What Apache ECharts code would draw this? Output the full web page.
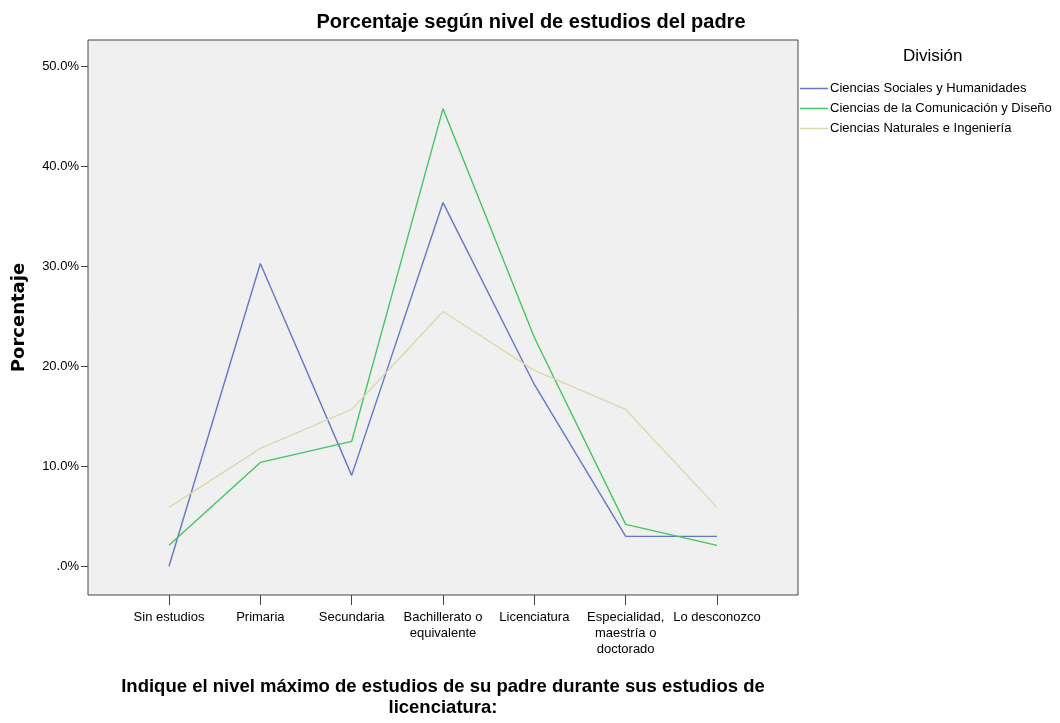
<!DOCTYPE html>
<html><head><meta charset="utf-8">
<script src="https://cdn.jsdelivr.net/npm/echarts@6/dist/echarts.min.js"></script>
<style>html,body{margin:0;padding:0;background:#fff;overflow:hidden}#c{width:1060px;height:723px}</style>
</head><body><div id="c"></div>
<script>
const categories = ['Sin estudios','Primaria','Secundaria','Bachillerato o\nequivalente','Licenciatura','Especialidad,\nmaestría o\ndoctorado','Lo desconozco'];
const seriesNames = ['Ciencias Sociales y Humanidades','Ciencias de la Comunicación y Diseño','Ciencias Naturales e Ingeniería'];
const socialesValues = [0.0, 30.3, 9.1, 36.4, 18.2, 3.0, 3.0];
const comunicacionValues = [2.1, 10.4, 12.5, 45.8, 22.9, 4.2, 2.1];
const naturalesValues = [5.9, 11.8, 15.7, 25.5, 19.6, 15.7, 5.9];
const yTicks = [0, 10, 20, 30, 40, 50];
const colors = ['#6278c8', '#44c562', '#dcd8ad'];

const FONT = '"Liberation Sans Narrow","Liberation Sans",Arial,sans-serif';
const chart = echarts.init(document.getElementById('c'), null, {renderer:'canvas'});
const allValues = [socialesValues, comunicacionValues, naturalesValues];
const xIdx = categories.map((c,i)=>i);

chart.setOption({
  animation:false,
  backgroundColor:'#fff',
  title:{
    text:'Porcentaje según nivel de estudios del padre',
    left:526, top:7, textAlign:'center',
    textStyle:{fontFamily:FONT, fontSize:20, fontWeight:'bold', color:'#000'}
  },
  legend:{
    orient:'vertical', left:800, top:82, padding:0,
    icon:'rect', itemWidth:28, itemHeight:1.5, itemGap:7,
    textStyle:{fontFamily:FONT, fontSize:13, color:'#000', padding:[0,0,0,-3]},
    data:seriesNames
  },
  graphic:[{
    type:'text', left:903, top:48,
    style:{text:'División', font:'17px '+FONT, fill:'#000'}
  }],
  grid:{left:88, top:40, width:710, height:562, show:true, backgroundColor:'#f0f0f0', borderColor:'#444', borderWidth:1},
  xAxis:{
    type:'value', min:-0.887, max:6.887,
    axisLine:{show:false, onZero:false}, splitLine:{show:false},
    axisTick:{show:true, customValues:xIdx, length:10, lineStyle:{color:'#444'}},
    axisLabel:{customValues:xIdx, formatter:(v)=>categories[Math.round(v)], fontFamily:FONT, fontSize:13, color:'#000', lineHeight:16, margin:14, verticalAlign:'top'},
    name:'Indique el nivel máximo de estudios de su padre durante sus estudios de\nlicenciatura:',
    nameLocation:'middle', nameGap:81,
    nameTextStyle:{fontFamily:FONT, fontSize:18.5, fontWeight:'bold', color:'#000', lineHeight:21}
  },
  yAxis:{
    type:'value', min:-2.87, max:52.67,
    axisLine:{show:false, onZero:false}, splitLine:{show:false},
    axisTick:{show:true, customValues:yTicks, length:7, lineStyle:{color:'#444'}},
    axisLabel:{customValues:yTicks, formatter:(v)=> v===0 ? '.0%' : v.toFixed(1)+'%', fontFamily:FONT, fontSize:13, color:'#000', margin:9},
    name:'Porcentaje', nameLocation:'middle', nameGap:60,
    nameTextStyle:{fontFamily:'"DejaVu Sans",sans-serif', fontSize:18, fontWeight:'bold', color:'#000'}
  },
  series: seriesNames.map((n,k)=>({
    name:n, type:'line', showSymbol:false, symbol:'none',
    data: allValues[k].map((v,i)=>[i,v]),
    lineStyle:{width:1.4, color:colors[k]}, itemStyle:{color:colors[k]}
  }))
});
</script></body></html>
